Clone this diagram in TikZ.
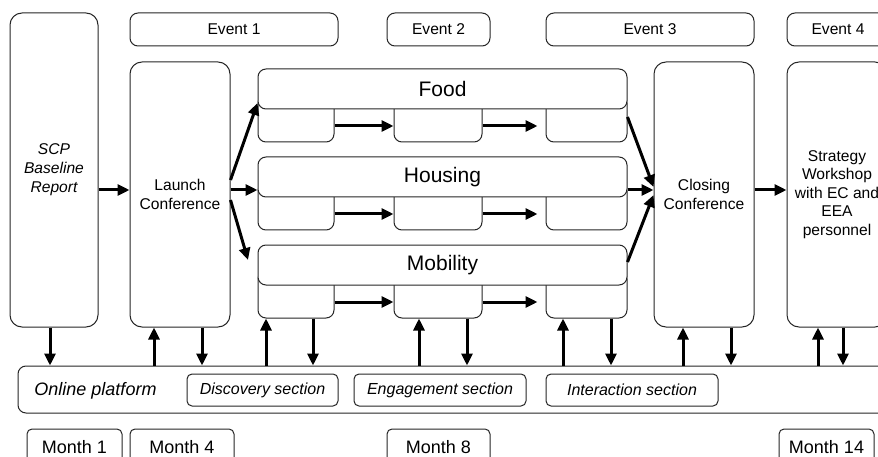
\documentclass[tikz,border=0pt]{standalone}
\usepackage{fontspec}
\setmainfont{Liberation Sans}
\usetikzlibrary{arrows.meta}
\begin{document}
\begin{tikzpicture}[x=1pt,y=-1pt,
  box/.style={draw=black!85, line width=1pt, rounded corners=#1, inner sep=0pt, fill=white},
  box/.default=8pt,
  txt/.style={font=\fontsize{15.6}{18.6}\selectfont, align=center},
  ittxt/.style={font=\itshape\fontsize{15.6}{19}\selectfont, align=center},
  theme/.style={box=8pt, minimum width=369pt, minimum height=40pt, font=\fontsize{21}{24}\selectfont},
  sub/.style={box=8pt, minimum height=47pt},
  sect/.style={box=5pt, minimum height=32pt, font=\itshape\fontsize{16}{19}\selectfont},
  month/.style={box=5pt, minimum height=36pt, font=\fontsize{18}{21}\selectfont},
  event/.style={box=8pt, minimum height=33pt, txt},
  arr/.style={line width=3pt, -{Triangle[length=12pt,width=11pt]}}
]
\useasboundingbox (0,0) rectangle (878,457);
\clip (0,0) rectangle (878,457);

% big boxes
\node[box=12pt, minimum width=88pt, minimum height=314pt, ittxt] (scp) at (54,170) {SCP\\Baseline\\Report};
\node[box=12pt, minimum width=100pt, minimum height=265pt, txt] (launch) at (180,194.5) {Launch\\Conference};
\node[box=12pt, minimum width=100pt, minimum height=265pt, txt] (closing) at (704,194.5) {Closing\\Conference};
\node[box=12pt, minimum width=100pt, minimum height=265pt, txt] (strategy) at (837,194.5) {Strategy\\Workshop\\with EC and\\EEA\\personnel};

% events
\node[event, minimum width=208pt] (e1) at (234,29.5) {Event 1};
\node[event, minimum width=103pt] (e2) at (438.5,29.5) {Event 2};
\node[event, minimum width=208pt] (e3) at (650,29.5) {Event 3};
\node[event, minimum width=102pt] (e4) at (838,29.5) {Event 4};

% sub boxes
\foreach \n/\y in {f/118.5, h/206.5, m/294.5}{
  \node[sub, minimum width=76pt] (\n1) at (296,\y) {};
  \node[sub, minimum width=88pt] (\n2) at (438,\y) {};
  \node[sub, minimum width=81pt] (\n3) at (586.5,\y) {};
}
% theme boxes
\node[theme] (food) at (442.5,89) {Food};
\node[theme] (housing) at (442.5,177) {Housing};
\node[theme] (mob) at (442.5,265) {Mobility};

% arrows inside themes
\draw[arr] (f1.east |- 0,126) -- (f2.west |- 0,126);
\draw[arr, shorten >=8pt] (f2.east |- 0,126) -- (f3.west |- 0,126);
\draw[arr] (h1.east |- 0,214) -- (h2.west |- 0,214);
\draw[arr, shorten >=8pt] (h2.east |- 0,214) -- (h3.west |- 0,214);
\draw[arr] (m1.east |- 0,302) -- (m2.west |- 0,302);
\draw[arr, shorten >=8pt] (m2.east |- 0,302) -- (m3.west |- 0,302);

% main flow
\coordinate (mobin) at (248,260);
\draw[arr] (scp.east |- 0,190) -- (launch.west |- 0,190);
\draw[arr] (launch.east |- 0,180) -- (food.west |- 0,103);
\draw[arr] (launch.east |- 0,190) -- (housing.west |- 0,190);
\draw[arr] (launch.east |- 0,200) -- (mobin);
\draw[arr] (f3.east |- 0,117) -- (closing.west |- 0,187);
\draw[arr] (housing.east |- 0,190) -- (closing.west |- 0,190);
\draw[arr] (mob.east |- 0,262) -- (closing.west |- 0,195);
\draw[arr] (closing.east |- 0,190) -- (strategy.west |- 0,190);

% platform
\node[box=8pt, minimum width=882pt, minimum height=47pt] (platform) at (459,389.5) {};
\node[font=\itshape\fontsize{18}{21}\selectfont, inner sep=0pt] (ptxt) at (95.5,391) {Online platform};
\node[sect, minimum width=151pt] (disc) at (262.5,390) {Discovery section};
\node[sect, minimum width=172pt] (eng) at (440,390) {Engagement section};
\node[sect, minimum width=172pt] (inter) at (632,390) {Interaction section};

% vertical arrows
\draw[arr] (scp.south -| 50,0) -- (platform.north -| 50,0);
\draw[arr] (platform.north -| 154,0) -- (launch.south -| 154,0);
\draw[arr] (launch.south -| 202,0) -- (platform.north -| 202,0);
\draw[arr] (platform.north -| 266,0) -- (m1.south -| 266,0);
\draw[arr] (m1.south -| 313,0) -- (platform.north -| 313,0);
\draw[arr] (platform.north -| 419,0) -- (m2.south -| 419,0);
\draw[arr] (m2.south -| 467,0) -- (platform.north -| 467,0);
\draw[arr] (platform.north -| 563,0) -- (m3.south -| 563,0);
\draw[arr] (m3.south -| 611,0) -- (platform.north -| 611,0);
\draw[arr] (platform.north -| 683,0) -- (closing.south -| 683,0);
\draw[arr] (closing.south -| 731,0) -- (platform.north -| 731,0);
\draw[arr] (platform.north -| 818,0) -- (strategy.south -| 818,0);
\draw[arr] (strategy.south -| 843,0) -- (platform.north -| 843,0);

% months
\node[month, minimum width=95pt] (mo1) at (74.5,447) {Month 1};
\node[month, minimum width=104pt] (mo4) at (182,447) {Month 4};
\node[month, minimum width=103pt] (mo8) at (438.5,447) {Month 8};
\node[month, minimum width=95pt] (mo14) at (826.5,447) {Month 14};
\end{tikzpicture}
\end{document}
